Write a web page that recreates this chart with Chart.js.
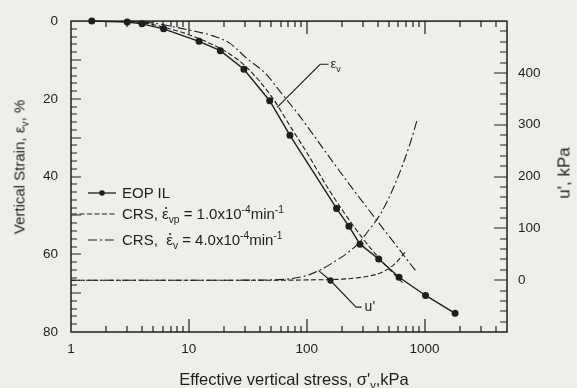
<!DOCTYPE html>
<html>
<head>
<meta charset="utf-8">
<title>Vertical strain and excess pore pressure</title>
<script src="https://cdn.jsdelivr.net/npm/chart.js"></script>
<style>
  html, body { margin: 0; background: #eeeeeb; }
  #box { position: relative; width: 577px; height: 388px; overflow: hidden;
         font-family: 'Liberation Sans', Arial, sans-serif; color: #1e1e1e; }
  #box canvas { position: absolute; left: 0; top: 0; }
  .lbl { position: absolute; white-space: nowrap; line-height: 1; }
  .lbl sub, .lbl sup { font-size: 68%; line-height: 0; }
  .rot { transform: translate(-50%, -50%) rotate(-90deg); }
  .leg { font-size: 15px; }
  .dot { position: relative; display: inline-block; }
  .dot::after { content: ''; position: absolute; left: 3px; top: 1px; width: 2px; height: 2px;
                background: #1e1e1e; border-radius: 1px; }
  svg.key { position: absolute; left: 68px; width: 50px; height: 10px; overflow: visible; }
</style>
</head>
<body>
<div id="box">
  <canvas id="chart" width="577" height="388"></canvas>

  <svg class="key" style="top:188px"><line x1="20" y1="5" x2="48" y2="5" stroke="#1e1e1e" stroke-width="1.3"/><circle cx="34" cy="5" r="2.8" fill="#1e1e1e"/></svg>
  <svg class="key" style="top:209px"><line x1="4" y1="5" x2="47" y2="5" stroke="#1e1e1e" stroke-width="1.1" stroke-dasharray="5 2.5"/></svg>
  <svg class="key" style="top:235px"><line x1="20" y1="5" x2="47" y2="5" stroke="#1e1e1e" stroke-width="1.1" stroke-dasharray="9 3 2 3"/></svg>
  <div class="lbl leg" style="left:122px; top:185px">EOP IL</div>
  <div class="lbl leg" style="left:122px; top:206px">CRS, <span class="dot">&#949;</span><sub>vp</sub> = 1.0x10<sup>-4</sup>min<sup>-1</sup></div>
  <div class="lbl leg" style="left:122px; top:232px">CRS,&nbsp; <span class="dot">&#949;</span><sub>v</sub> = 4.0x10<sup>-4</sup>min<sup>-1</sup></div>

  <div class="lbl rot" style="left:19px; top:167px; font-size:15px">Vertical Strain, &#949;<sub>v</sub>, %</div>
  <div class="lbl rot" style="left:564px; top:173px; font-size:17px">u', kPa</div>
  <div class="lbl" style="left:294px; top:379px; font-size:16.5px; transform:translate(-50%,-50%)">Effective vertical stress, &#963;'<sub>v</sub>,kPa</div>

  <div class="lbl" id="epsLbl" style="font-size:13px">&#949;<sub>v</sub></div>
  <div class="lbl" id="uLbl" style="font-size:14px">u'</div>
</div>

<script>
var ink = '#1e1e1e';

// EOP incremental loading test (strain, %)
var eopStress = [1.5, 3.0, 4.0, 6.1, 12.2, 18.5, 29.3, 48.5, 72, 179, 228, 283, 408, 607, 1019, 1813];
var eopStrain = [0, 0.25, 0.7, 2.0, 5.2, 7.6, 12.4, 20.5, 29.4, 48.2, 52.8, 57.4, 61.2, 65.9, 70.6, 75.2];

// CRS test, rate 1.0e-4 /min (strain, %)
var crs1Stress = [2, 4, 6, 10, 15, 20, 30, 50, 75, 100, 150, 200, 300, 400, 500, 660];
var crs1Strain = [0, 0.4, 1.5, 3.5, 5.7, 7.6, 11.5, 19.3, 27.8, 33.8, 42.8, 48.6, 56.0, 60.6, 63.8, 67.5];

// CRS test, rate 4.0e-4 /min (strain, %)
var crs2Stress = [3, 5, 8.4, 12, 16, 22, 31, 45, 60, 85, 114, 160, 221, 344, 461, 618, 837];
var crs2Strain = [0, 0.5, 1.8, 2.8, 3.8, 5.6, 9.6, 13.6, 18.3, 24.0, 29.3, 35.5, 41.3, 49.0, 54.0, 59.0, 64.2];

// excess pore pressure u', kPa
var crs1UStress = [1, 20, 60, 100, 200, 300, 422, 550, 690];
var crs1U = [0, 0, 0, 0.5, 2, 6, 14, 30, 55];
var crs2UStress = [1, 20, 50, 70, 100, 131, 170, 220, 285, 325, 425, 560, 759, 865];
var crs2U = [0, 0, 0.5, 2.5, 9, 20, 35, 52, 75, 92, 129, 185, 266, 310];

// leader lines for the curve labels (stress, strain)
var epsLeadStress = [56, 130, 153];
var epsLeadStrain = [22.2, 11.1, 11.1];
var uLeadStress = [126, 159, 262, 292];
var uLeadStrain = [64.2, 66.75, 73.6, 73.6];

var xTicks = [1, 10, 100, 1000];
var strainTicks = [0, 20, 40, 60, 80];
var uTicks = [0, 100, 200, 300, 400];

function pts(xs, ys) {
  return xs.map(function (v, i) { return { x: v, y: ys[i] }; });
}

// minor tick positions
var xMarks = [];
for (var d = 1; d <= 1000; d *= 10) {
  for (var k = 1; k <= 9; k++) if (d * k < 5000) xMarks.push(d * k);
}
var strainMarks = [];
for (var s = 2; s < 80; s += 2) strainMarks.push(s);
var uMarks = [];
for (var q = -80; q < 500; q += 20) uMarks.push(q);

var frame = {
  id: 'frame',
  afterDraw: function (chart) {
    var c = chart.ctx, a = chart.chartArea, sx = chart.scales.x, sy = chart.scales.y, su = chart.scales.u;
    c.save();
    c.strokeStyle = ink;
    c.lineWidth = 1.2;
    c.setLineDash([]);
    c.beginPath();
    xMarks.forEach(function (v) {
      if (v === 1) return;
      var px = Math.round(sx.getPixelForValue(v));
      var len = xTicks.indexOf(v) >= 0 ? 13 : 6;
      c.moveTo(px, a.bottom); c.lineTo(px, a.bottom - len);
      c.moveTo(px, a.top); c.lineTo(px, a.top + len);
    });
    strainMarks.forEach(function (v) {
      var py = Math.round(sy.getPixelForValue(v));
      var len = v % 10 === 0 ? 10 : 6;
      c.moveTo(a.left, py); c.lineTo(a.left + len, py);
    });
    uMarks.forEach(function (v) {
      var py = Math.round(su.getPixelForValue(v));
      var len = v % 100 === 0 ? 13 : 7;
      c.moveTo(a.right, py); c.lineTo(a.right - len, py);
    });
    c.stroke();
    c.lineWidth = 1.5;
    c.strokeRect(a.left, a.top, a.right - a.left, a.bottom - a.top);
    c.restore();
  },
  afterRender: function (chart) {
    var sx = chart.scales.x, sy = chart.scales.y;
    var e = document.getElementById('epsLbl');
    e.style.left = (sx.getPixelForValue(epsLeadStress[2]) + 2) + 'px';
    e.style.top = (sy.getPixelForValue(epsLeadStrain[2]) - 7) + 'px';
    var u = document.getElementById('uLbl');
    u.style.left = (sx.getPixelForValue(uLeadStress[3]) + 3) + 'px';
    u.style.top = (sy.getPixelForValue(uLeadStrain[3]) - 8) + 'px';
  }
};

Chart.defaults.font.family = "'Liberation Sans', Arial, sans-serif";
Chart.defaults.color = ink;

var lineBase = { borderColor: ink, backgroundColor: ink, pointRadius: 0, fill: false };

new Chart(document.getElementById('chart'), {
  type: 'line',
  data: {
    datasets: [
      Object.assign({}, lineBase, { label: 'EOP IL', data: pts(eopStress, eopStrain), yAxisID: 'y',
        borderWidth: 1.4, pointRadius: 2.8, tension: 0, clip: false }),
      Object.assign({}, lineBase, { label: 'CRS 1.0e-4', data: pts(crs1Stress, crs1Strain), yAxisID: 'y',
        borderWidth: 1.1, borderDash: [5, 2.5], cubicInterpolationMode: 'monotone' }),
      Object.assign({}, lineBase, { label: 'CRS 4.0e-4', data: pts(crs2Stress, crs2Strain), yAxisID: 'y',
        borderWidth: 1.1, borderDash: [9, 3, 2, 3], cubicInterpolationMode: 'monotone' }),
      Object.assign({}, lineBase, { label: 'u CRS 1.0e-4', data: pts(crs1UStress, crs1U), yAxisID: 'u',
        borderWidth: 1.1, borderDash: [5, 2.5], cubicInterpolationMode: 'monotone' }),
      Object.assign({}, lineBase, { label: 'u CRS 4.0e-4', data: pts(crs2UStress, crs2U), yAxisID: 'u',
        borderWidth: 1.1, borderDash: [9, 3, 2, 3], cubicInterpolationMode: 'monotone' }),
      Object.assign({}, lineBase, { label: 'eps lead', data: pts(epsLeadStress, epsLeadStrain), yAxisID: 'y',
        borderWidth: 1.1, tension: 0 }),
      Object.assign({}, lineBase, { label: 'u lead', data: pts(uLeadStress, uLeadStrain), yAxisID: 'y',
        borderWidth: 1.1, tension: 0, pointRadius: [0, 2.6, 0, 0] })
    ]
  },
  options: {
    responsive: false,
    animation: false,
    layout: { padding: { top: 18, right: 0, left: 0, bottom: 0 } },
    plugins: { legend: { display: false }, tooltip: { enabled: false } },
    scales: {
      x: {
        type: 'logarithmic', min: 1, max: 5000,
        afterBuildTicks: function (s) { s.ticks = xTicks.map(function (v) { return { value: v }; }); },
        afterFit: function (s) { s.height = 56; },
        grid: { display: false, drawTicks: false }, border: { display: false },
        ticks: { padding: 9, font: { size: 13.5 }, maxRotation: 0, autoSkip: false,
                 callback: function (v) { return String(v); } }
      },
      y: {
        position: 'left', min: 0, max: 80, reverse: true,
        afterBuildTicks: function (s) { s.ticks = strainTicks.map(function (v) { return { value: v }; }); },
        afterFit: function (s) { s.width = 71; },
        grid: { display: false, drawTicks: false }, border: { display: false },
        ticks: { padding: 13, font: { size: 13.5 } }
      },
      u: {
        position: 'right', min: -100, max: 500,
        afterBuildTicks: function (s) { s.ticks = uTicks.map(function (v) { return { value: v }; }); },
        afterFit: function (s) { s.width = 70; },
        grid: { display: false, drawTicks: false }, border: { display: false },
        ticks: { padding: 11, font: { size: 13.5 } }
      }
    }
  },
  plugins: [frame]
});
</script>
</body>
</html>
